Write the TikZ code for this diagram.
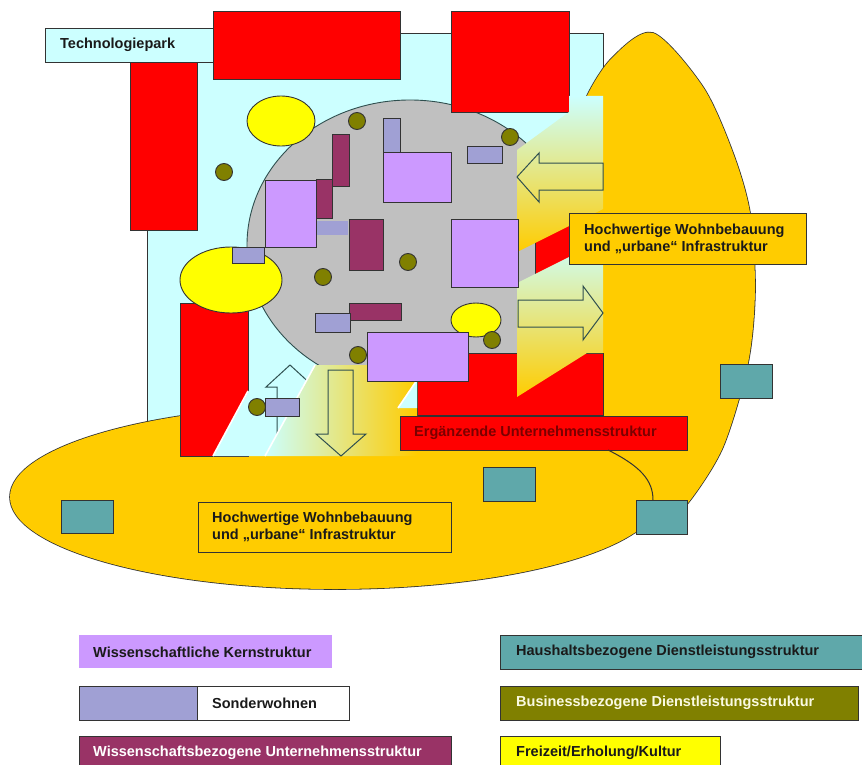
\documentclass[tikz,border=0pt]{standalone}
\usepackage{fontspec}
\setmainfont{Liberation Sans}
\definecolor{cy}{HTML}{CCFFFF}
\definecolor{rd}{HTML}{FF0000}
\definecolor{org}{HTML}{FFCC00}
\definecolor{gr}{HTML}{C0C0C0}
\definecolor{pu}{HTML}{CC99FF}
\definecolor{lav}{HTML}{A0A0D4}
\definecolor{mar}{HTML}{993366}
\definecolor{olv}{HTML}{808000}
\definecolor{tl}{HTML}{5FA8AA}
\definecolor{yl}{HTML}{FFFF00}
\definecolor{edge}{HTML}{333333}
\definecolor{arr}{HTML}{2F4F4F}
\definecolor{txt}{HTML}{1A1A1A}
\definecolor{ergtxt}{HTML}{7A0000}
\begin{document}
\begin{tikzpicture}[x=1pt,y=-1pt,line join=miter,
  shp/.style={draw=edge,line width=0.9pt},
  lbl/.style={font=\fontsize{14.5}{17.5}\selectfont\bfseries,text=txt,inner sep=0pt,anchor=west,align=left},
  blockarrow/.style={draw=arr,line width=1pt},
  dot/.style={shp,fill=olv},
  whiteedge/.style={draw=white,line width=1.6pt}]
\useasboundingbox (0,0) rectangle (862,765);
\fill[white] (0,0) rectangle (862,765);
% Technologiepark area
\filldraw[cy,shp] (147,33) rectangle (603,440);
\filldraw[cy,shp] (45,28) rectangle (213,62);
\node[lbl] (tp) at (60,45) {Technologiepark};
% gray core
\filldraw[fill=gr,draw=arr,line width=0.9pt] (410,245) ellipse [x radius=163pt,y radius=145pt];
% orange residential areas (union)
\def\rightzone{(653,33) (703,87) (733,153) (750,213) (755,290) (748,363) (723,447) (688,503) (660,527) (628,533) (590,535) (558,505) (545,430) (545,330) (552,230) (565,160) (585,100) (612,58)}
\draw[edge,line width=1.6pt] plot[smooth cycle] coordinates {(653,33) (703,87) (733,153) (750,213) (755,290) (748,363) (723,447) (688,503) (660,527) (628,533) (590,535) (558,505) (545,430) (545,330) (552,230) (565,160) (585,100) (612,58)};
\draw[edge,line width=1.6pt] (335,497) ellipse [x radius=325pt,y radius=92pt];
\fill[org] plot[smooth cycle] coordinates {(653,33) (703,87) (733,153) (750,213) (755,290) (748,363) (723,447) (688,503) (660,527) (628,533) (590,535) (558,505) (545,430) (545,330) (552,230) (565,160) (585,100) (612,58)};
\fill[org] (335,497) ellipse [x radius=325pt,y radius=92pt];
% red enterprise blocks
\filldraw[rd,shp] (213,11) rectangle (400,79);
\filldraw[rd,shp] (130,62) rectangle (197,230);
\filldraw[rd,shp] (451,11) rectangle (569,112);
\filldraw[rd,shp] (180,303) rectangle (248,456);
\filldraw[rd,shp] (417,353) rectangle (603,415);
\filldraw[rd,shp] (535,215) rectangle (569,290);
% transition zones
\fill[cy] (213,456) -- (263,365) -- (315,365) -- (265,456) -- cycle;
\draw[whiteedge] (213,456) -- (248,391);
\draw[blockarrow] (290,365) -- (314,387) -- (303,387) -- (303,440) -- (277,440) -- (277,387) -- (266,387) -- cycle;
\shade[left color=cy,right color=org] (265,456) -- (315,365) -- (417,365) -- (417,456) -- cycle;
\draw[whiteedge] (265,456) -- (315,365);
\fill[cy] (398,408) -- (417,380) -- (417,408) -- cycle;
\draw[whiteedge] (398,408) -- (417,380);
\shade[top color=cy,bottom color=org] (517,150) -- (569,112) -- (569,96) -- (603,96) -- (603,209) -- (517,252) -- cycle;
\shade[top color=cy,bottom color=org] (517,283) -- (603,240) -- (603,353) -- (587,353) -- (517,397) -- cycle;
% arrows
\draw[blockarrow] (341,456) -- (366,434) -- (353,434) -- (353,370) -- (328,370) -- (328,434) -- (316,434) -- cycle;
\draw[blockarrow] (517,177) -- (539,153) -- (539,163) -- (603,163) -- (603,190) -- (539,190) -- (539,202) -- cycle;
\draw[blockarrow] (518,300) -- (583,300) -- (583,286) -- (603,313) -- (583,340) -- (583,327) -- (518,327) -- cycle;
% yellow leisure
\filldraw[yl,shp] (281,121) ellipse [x radius=34pt,y radius=25pt];
\filldraw[yl,shp] (231,280) ellipse [x radius=51pt,y radius=33pt];
\filldraw[yl,shp] (476,320) ellipse [x radius=25pt,y radius=17pt];
% maroon
\filldraw[mar,shp] (332,134) rectangle (349,186);
\filldraw[mar,shp] (316,179) rectangle (332,218);
\filldraw[mar,shp] (349,219) rectangle (383,270);
\filldraw[mar,shp] (349,303) rectangle (401,320);
% purple core
\filldraw[pu,shp] (265,180) rectangle (316,247);
\filldraw[pu,shp] (383,152) rectangle (451,202);
\filldraw[pu,shp] (451,219) rectangle (518,287);
\filldraw[pu,shp] (367,332) rectangle (468,381);
% lavender special housing
\filldraw[lav,shp] (383,118) rectangle (400,152);
\filldraw[lav,shp] (467,146) rectangle (502,163);
\fill[lav] (317,221) rectangle (348,235);
\filldraw[lav,shp] (232,247) rectangle (264,263);
\filldraw[lav,shp] (315,313) rectangle (350,332);
\filldraw[lav,shp] (265,398) rectangle (299,416);
% olive dots
\foreach \p in {(224,172),(357,121),(510,137),(323,277),(408,262),(358,355),(257,407),(492,340)}
  \filldraw[dot] \p circle [radius=8.5pt];
% labels
\filldraw[rd,shp] (400,416) rectangle (687,450);
\node[lbl,text=ergtxt] (erg) at (414,433) {Ergänzende Unternehmensstruktur};
\filldraw[org,shp] (569,213) rectangle (806,264);
\node[lbl] (hw1) at (584,239) {Hochwertige Wohnbebauung\\und „urbane“ Infrastruktur};
\filldraw[org,shp] (198,502) rectangle (451,552);
\node[lbl] (hw2) at (212,527) {Hochwertige Wohnbebauung\\und „urbane“ Infrastruktur};
% teal household services
\filldraw[tl,shp] (61,500) rectangle (113,533);
\filldraw[tl,shp] (483,467) rectangle (535,501);
\filldraw[tl,shp] (636,500) rectangle (687,534);
\filldraw[tl,shp] (720,364) rectangle (772,398);
\coordinate (ergB) at (608,450);
\coordinate (tealT) at (653,500);
\draw[edge,line width=1pt] (ergB) .. controls (640,466) and (653,480) .. (tealT);
% legend
\fill[pu] (79,635) rectangle (332,668);
\node[lbl] (lg1) at (93,652) {Wissenschaftliche Kernstruktur};
\filldraw[white,shp] (79,686) rectangle (349,720);
\filldraw[lav,shp] (79,686) rectangle (197,720);
\node[lbl] (lg2) at (212,703) {Sonderwohnen};
\filldraw[mar,shp] (79,736) rectangle (451,775);
\node[lbl,text=white] (lg3) at (93,753) {Wissenschaftsbezogene Unternehmensstruktur};
\filldraw[tl,shp] (500,635) rectangle (870,669);
\node[lbl] (lg4) at (516,652) {Haushaltsbezogene Dienstleistungsstruktur};
\filldraw[olv,shp] (500,686) rectangle (858,720);
\node[lbl,text={rgb,255:red,250;green,250;blue,225}] (lg5) at (516,703) {Businessbezogene Dienstleistungsstruktur};
\filldraw[yl,shp] (500,736) rectangle (720,775);
\node[lbl] (lg6) at (516,753) {Freizeit/Erholung/Kultur};
\end{tikzpicture}
\end{document}
